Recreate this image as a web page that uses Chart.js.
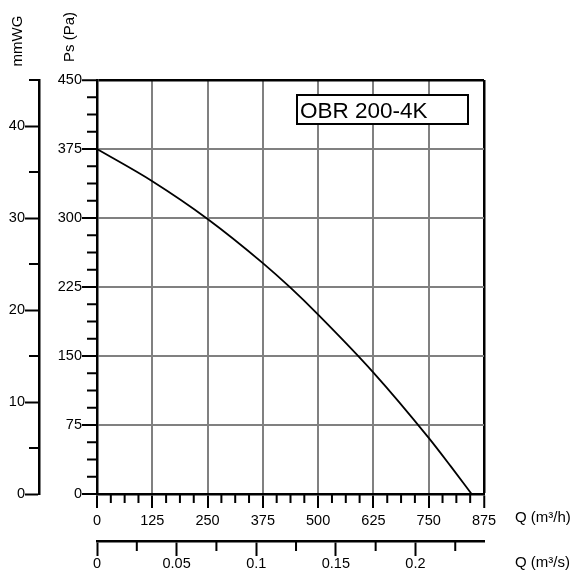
<!DOCTYPE html>
<html>
<head>
<meta charset="utf-8">
<script src="https://cdn.jsdelivr.net/npm/chart.js@4.4.0/dist/chart.umd.min.js"></script>
<style>
html,body{margin:0;padding:0;background:#fff;}
#wrap{width:577px;height:576px;position:relative;}
</style>
</head>
<body>
<div id="wrap"><canvas id="c" width="577" height="576"></canvas></div>
<script>
// ---- data ----
const flowQ = [0, 125, 250, 375, 438, 500, 625, 750, 800, 847];      // m³/h
const pressurePs = [375, 340, 299, 251, 224, 195, 132, 61, 30, 0];   // Pa
const modelName = 'OBR 200-4K';
const xTickStep = 125, xMinorStep = 31.25, xMax = 875;
const yTickStep = 75, yMinorStep = 18.75, yMax = 450;
const mmTickStep = 10, mmMinorStep = 5, mmMax = 45;
const qsTickStep = 0.05, qsMinorStep = 0.025, qsMax = 875 / 3600;
const labelX = 'Q (m³/h)', labelQs = 'Q (m³/s)', labelY = 'Ps (Pa)', labelMm = 'mmWG';

const FONT = 'Liberation Sans, Arial, Helvetica, sans-serif';
const tickFont = {family: FONT, size: 14.5};
const GRID = '#808080';

function isMult(v, s){ const r = v / s; return Math.abs(r - Math.round(r)) < 1e-6; }
function fmt(v){ return String(+(+v).toFixed(3)); }

const minorTicks = {
  id: 'minorTicks',
  afterDraw(chart){
    const c = chart.ctx, s = chart.scales;
    c.save();
    c.strokeStyle = '#000';
    c.lineWidth = 2;
    c.beginPath();
    for (let v = xMinorStep; v < xMax; v += xMinorStep){
      if (isMult(v, xTickStep)) continue;
      const px = s.x.getPixelForValue(v);
      c.moveTo(px, s.x.top); c.lineTo(px, s.x.top + 9);
    }
    for (let v = yMinorStep; v < yMax; v += yMinorStep){
      if (isMult(v, yTickStep)) continue;
      const py = s.y.getPixelForValue(v);
      c.moveTo(s.y.right, py); c.lineTo(s.y.right - 10, py);
    }
    for (let v = mmMinorStep; v <= mmMax + 1e-9; v += mmMinorStep){
      if (isMult(v, mmTickStep)) continue;
      const py = s.mm.getPixelForValue(v);
      c.moveTo(s.mm.right, py); c.lineTo(s.mm.right - 10, py);
    }
    for (let v = qsMinorStep; v < qsMax; v += qsMinorStep){
      if (isMult(v, qsTickStep)) continue;
      const px = s.qs.getPixelForValue(v);
      c.moveTo(px, s.qs.top); c.lineTo(px, s.qs.top + 10);
    }
    c.stroke();

    c.fillStyle = '#000';
    c.font = '15px ' + FONT;
    c.textBaseline = 'middle';
    c.textAlign = 'center';
    c.save(); c.translate(70, 37); c.rotate(-Math.PI/2); c.fillText(labelY, 0, 0); c.restore();
    c.save(); c.translate(18, 41); c.rotate(-Math.PI/2); c.fillText(labelMm, 0, 0); c.restore();
    c.textAlign = 'left';
    c.fillText(labelX, 515, 518);
    c.fillText(labelQs, 515, 563);

    c.fillStyle = '#fff';
    c.fillRect(297, 95, 171, 29);
    c.strokeStyle = '#000';
    c.lineWidth = 2;
    c.strokeRect(297, 95, 171, 29);
    c.fillStyle = '#000';
    c.font = '22.5px ' + FONT;
    c.textBaseline = 'alphabetic';
    c.fillText(modelName, 300, 117.5);
    c.restore();
  }
};

new Chart(document.getElementById('c'), {
  type: 'scatter',
  data: {
    datasets: [{
      data: flowQ.map((q, i) => ({x: q, y: pressurePs[i]})),
      showLine: true,
      borderColor: '#000',
      borderWidth: 1.8,
      pointRadius: 0,
      cubicInterpolationMode: 'monotone',
      xAxisID: 'x', yAxisID: 'y'
    }]
  },
  options: {
    responsive: false,
    animation: false,
    devicePixelRatio: 1,
    layout: {padding: {left: 0, top: 80, right: 93, bottom: 0}},
    plugins: {legend: {display: false}, tooltip: {enabled: false}},
    scales: {
      x: {
        type: 'linear', position: 'bottom', weight: 0,
        min: 0, max: xMax,
        afterFit: s => { s.height = 47; },
        ticks: {stepSize: xTickStep, autoSkip: false, maxRotation: 0, padding: 4, color: '#000', font: tickFont, callback: fmt},
        grid: {
          color: ctx => (ctx.tick && Math.abs(ctx.tick.value - xMax) < 1e-6) ? '#000' : GRID,
          lineWidth: ctx => (ctx.tick && Math.abs(ctx.tick.value - xMax) < 1e-6) ? 2.5 : 2,
          tickColor: '#000', tickWidth: 2, tickLength: 14
        },
        border: {color: '#000', width: 2.5}
      },
      qs: {
        type: 'linear', position: 'bottom', weight: 10,
        min: 0, max: qsMax,
        afterFit: s => { s.height = 35; },
        ticks: {stepSize: qsTickStep, includeBounds: false, autoSkip: false, maxRotation: 0, padding: -1, color: '#000', font: tickFont, callback: fmt},
        grid: {drawOnChartArea: false, tickColor: '#000', tickWidth: 2, tickLength: 15},
        border: {color: '#000', width: 2.5}
      },
      y: {
        type: 'linear', position: 'left', weight: 0,
        min: 0, max: yMax,
        afterFit: s => { s.width = 58; },
        ticks: {stepSize: yTickStep, autoSkip: false, padding: 0, color: '#000', font: tickFont, callback: fmt},
        grid: {
          color: ctx => (ctx.tick && Math.abs(ctx.tick.value - yMax) < 1e-6) ? '#000' : GRID,
          lineWidth: ctx => (ctx.tick && Math.abs(ctx.tick.value - yMax) < 1e-6) ? 2.5 : 2,
          tickColor: '#000', tickWidth: 2, tickLength: 15
        },
        border: {color: '#000', width: 2.5}
      },
      mm: {
        type: 'linear', position: 'left', weight: 10,
        min: 0, max: mmMax,
        afterFit: s => { s.width = 39; },
        ticks: {stepSize: mmTickStep, includeBounds: false, autoSkip: false, padding: 0, color: '#000', font: tickFont, callback: fmt},
        grid: {drawOnChartArea: false, tickColor: '#000', tickWidth: 2, tickLength: 14},
        border: {color: '#000', width: 2.5}
      }
    }
  },
  plugins: [minorTicks]
});
</script>
</body>
</html>
